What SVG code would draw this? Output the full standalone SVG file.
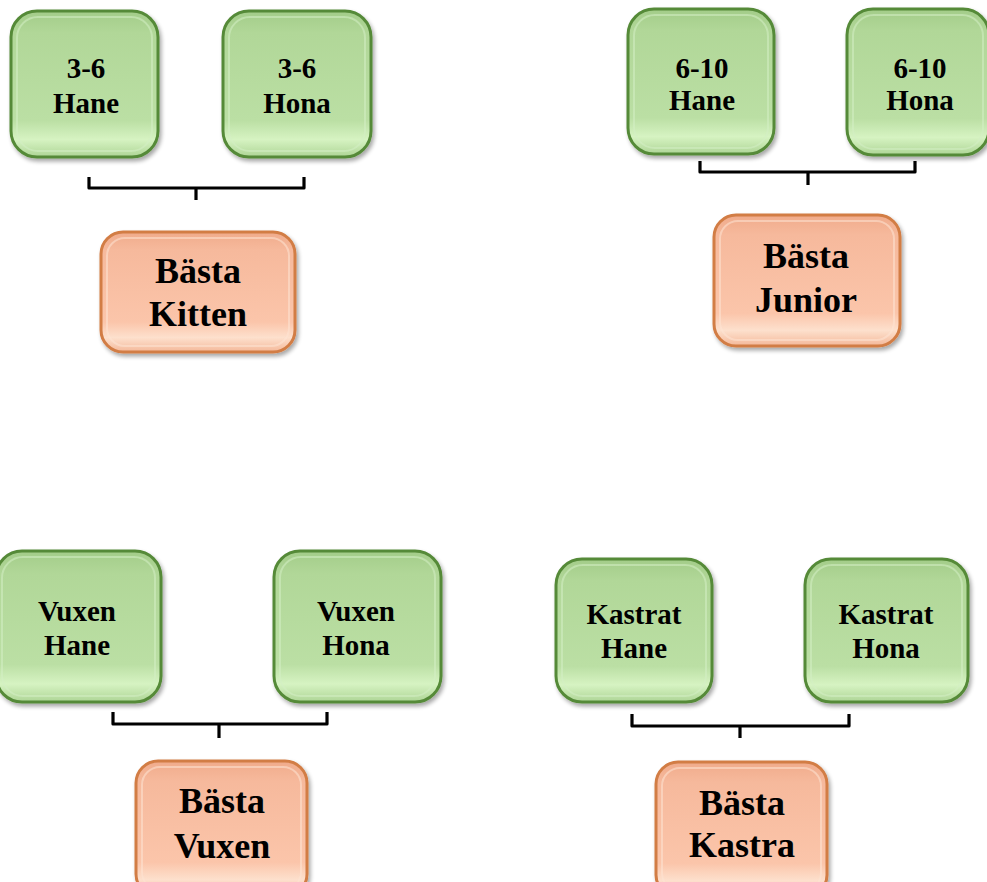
<svg xmlns="http://www.w3.org/2000/svg" width="987" height="882" viewBox="0 0 987 882">
<defs>
<linearGradient id="gg" x1="0" y1="0" x2="0" y2="1">
<stop offset="0" stop-color="#a3cc89"/>
<stop offset="0.15" stop-color="#b1d798"/>
<stop offset="0.75" stop-color="#bbdfa4"/>
<stop offset="0.88" stop-color="#d6f3c2"/>
<stop offset="1" stop-color="#aed596"/>
</linearGradient>
<linearGradient id="og" x1="0" y1="0" x2="0" y2="1">
<stop offset="0" stop-color="#f0ab8b"/>
<stop offset="0.15" stop-color="#f6b99c"/>
<stop offset="0.75" stop-color="#fbc5aa"/>
<stop offset="0.88" stop-color="#fde0cd"/>
<stop offset="1" stop-color="#f4b899"/>
</linearGradient>
<filter id="sh" x="-10%" y="-10%" width="125%" height="125%">
<feGaussianBlur in="SourceAlpha" stdDeviation="2"/>
<feOffset dx="2" dy="3" result="b"/>
<feComponentTransfer><feFuncA type="linear" slope="0.35"/></feComponentTransfer>
<feMerge><feMergeNode/><feMergeNode in="SourceGraphic"/></feMerge>
</filter>
</defs>
<style>
.g{fill:url(#gg);stroke:#558a38;stroke-width:3;filter:url(#sh)}
.o{fill:url(#og);stroke:#d27d45;stroke-width:3;filter:url(#sh)}
.gi{fill:none;stroke:#d4efc4;stroke-width:2;opacity:0.55}
.oi{fill:none;stroke:#fde3d4;stroke-width:2;opacity:0.55}
.t{font-family:"Liberation Serif","Times New Roman",serif;font-weight:bold;font-size:29px;fill:#000;text-anchor:middle}
.b{font-family:"Liberation Serif","Times New Roman",serif;font-weight:bold;font-size:36px;fill:#000;text-anchor:middle}
.br{fill:none;stroke:#000;stroke-width:3.2;stroke-linejoin:round}
</style>

<g id="n-kitten-hane">
<rect class="g" x="11" y="11" width="147" height="146" rx="26"/>
<rect class="gi" x="17" y="17" width="135" height="134" rx="21"/>
<text class="t" x="86" y="78">3-6</text>
<text class="t" x="86" y="113">Hane</text>
</g>
<g id="n-kitten-hona">
<rect class="g" x="223" y="11" width="148" height="146" rx="26"/>
<rect class="gi" x="229" y="17" width="136" height="134" rx="21"/>
<text class="t" x="297" y="78">3-6</text>
<text class="t" x="297" y="113">Hona</text>
</g>
<g id="n-basta-kitten">
<rect class="o" x="101" y="232" width="194" height="120" rx="22"/>
<rect class="oi" x="107" y="238" width="182" height="108" rx="18"/>
<text class="b" x="198" y="283">Bästa</text>
<text class="b" x="198" y="326">Kitten</text>
</g>

<g id="n-junior-hane">
<rect class="g" x="628" y="9" width="146" height="145" rx="26"/>
<rect class="gi" x="634" y="15" width="134" height="133" rx="21"/>
<text class="t" x="702" y="78">6-10</text>
<text class="t" x="702" y="110">Hane</text>
</g>
<g id="n-junior-hona">
<rect class="g" x="847" y="9" width="142" height="146" rx="26"/>
<rect class="gi" x="853" y="15" width="130" height="134" rx="21"/>
<text class="t" x="920" y="78">6-10</text>
<text class="t" x="920" y="110">Hona</text>
</g>
<g id="n-basta-junior">
<rect class="o" x="714" y="215" width="186" height="131" rx="22"/>
<rect class="oi" x="720" y="221" width="174" height="119" rx="18"/>
<text class="b" x="806" y="268">Bästa</text>
<text class="b" x="806" y="312">Junior</text>
</g>

<g id="n-vuxen-hane">
<rect class="g" x="-4" y="551" width="165" height="151" rx="26"/>
<rect class="gi" x="2" y="557" width="153" height="139" rx="21"/>
<text class="t" x="77" y="621">Vuxen</text>
<text class="t" x="77" y="655">Hane</text>
</g>
<g id="n-vuxen-hona">
<rect class="g" x="274" y="551" width="167" height="151" rx="26"/>
<rect class="gi" x="280" y="557" width="155" height="139" rx="21"/>
<text class="t" x="356" y="621">Vuxen</text>
<text class="t" x="356" y="655">Hona</text>
</g>
<g id="n-basta-vuxen">
<rect class="o" x="136" y="761" width="171" height="135" rx="22"/>
<rect class="oi" x="142" y="767" width="159" height="123" rx="18"/>
<text class="b" x="222" y="813">Bästa</text>
<text class="b" x="222" y="858">Vuxen</text>
</g>

<g id="n-kastrat-hane">
<rect class="g" x="556" y="559" width="156" height="143" rx="26"/>
<rect class="gi" x="562" y="565" width="144" height="131" rx="21"/>
<text class="t" x="634" y="624">Kastrat</text>
<text class="t" x="634" y="658">Hane</text>
</g>
<g id="n-kastrat-hona">
<rect class="g" x="805" y="559" width="163" height="143" rx="26"/>
<rect class="gi" x="811" y="565" width="151" height="131" rx="21"/>
<text class="t" x="886" y="624">Kastrat</text>
<text class="t" x="886" y="658">Hona</text>
</g>
<g id="n-basta-kastra">
<rect class="o" x="656" y="762" width="171" height="135" rx="22"/>
<rect class="oi" x="662" y="768" width="159" height="123" rx="18"/>
<text class="b" x="742" y="815">Bästa</text>
<text class="b" x="742" y="857">Kastra</text>
</g>

<g id="connectors">
<path class="br" d="M89,177 V188 H304 V177 M196,188 V200"/>
<path class="br" d="M700,161 V172 H915 V161 M808,172 V185"/>
<path class="br" d="M113,712 V724 H327 V712 M219,724 V738"/>
<path class="br" d="M632,714 V726 H849 V714 M740,726 V738"/>
</g>
</svg>
